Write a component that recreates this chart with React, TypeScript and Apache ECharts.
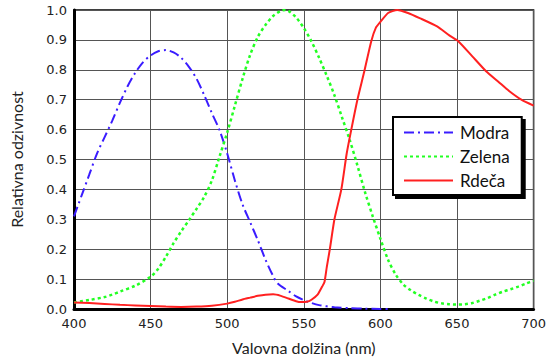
import React, { useEffect, useRef } from "react";
import * as echarts from "echarts";

const xTicks = [400, 450, 500, 550, 600, 650, 700];
const yTicks = [0, 0.1, 0.2, 0.3, 0.4, 0.5, 0.6, 0.7, 0.8, 0.9, 1.0];

const seriesNames = ["Modra", "Zelena", "Rdeča"];

const blueX = [400, 405, 410, 415, 420, 425, 430, 435, 440, 445, 450, 455, 460, 465, 470, 475, 480, 485, 490, 495, 500, 505, 510, 515, 520, 525, 530, 533, 540, 545, 550, 555, 560, 570, 580, 590, 600, 605];
const blueY = [0.31, 0.38, 0.45, 0.52, 0.575, 0.63, 0.69, 0.745, 0.79, 0.825, 0.848, 0.862, 0.866, 0.858, 0.84, 0.81, 0.77, 0.715, 0.655, 0.598, 0.52, 0.43, 0.35, 0.29, 0.23, 0.165, 0.11, 0.085, 0.06, 0.042, 0.03, 0.02, 0.013, 0.006, 0.003, 0.001, 0, 0];

const greenX = [400, 410, 420, 425, 430, 440, 450, 455, 460, 465, 470, 475, 480, 485, 490, 495, 500, 505, 510, 515, 520, 525, 530, 535, 538, 540, 545, 550, 555, 560, 565, 570, 575, 580, 585, 590, 595, 600, 605, 610, 615, 620, 625, 630, 635, 640, 645, 650, 655, 660, 665, 670, 675, 680, 685, 690, 695, 700];
const greenY = [0.022, 0.03, 0.04, 0.048, 0.058, 0.078, 0.108, 0.135, 0.175, 0.22, 0.26, 0.297, 0.335, 0.375, 0.43, 0.51, 0.59, 0.68, 0.77, 0.85, 0.91, 0.95, 0.98, 0.997, 1.0, 0.997, 0.975, 0.94, 0.895, 0.84, 0.78, 0.715, 0.64, 0.565, 0.48, 0.39, 0.31, 0.235, 0.165, 0.115, 0.082, 0.062, 0.047, 0.035, 0.025, 0.019, 0.016, 0.015, 0.016, 0.02, 0.028, 0.037, 0.048, 0.058, 0.066, 0.075, 0.085, 0.095];

const redX = [400, 410, 420, 430, 440, 450, 460, 470, 480, 490, 500, 505, 510, 515, 520, 525, 530, 535, 540, 545, 548, 552, 555, 559, 562, 563.5, 565, 567, 570, 574.5, 578, 581, 585, 589.5, 594, 597, 600, 605, 611, 618, 626, 637, 645, 651, 660, 669, 677, 684, 692, 700];
const redY = [0.022, 0.02, 0.017, 0.014, 0.012, 0.01, 0.008, 0.007, 0.008, 0.011, 0.018, 0.024, 0.032, 0.038, 0.044, 0.048, 0.049, 0.044, 0.035, 0.026, 0.023, 0.024, 0.031, 0.048, 0.075, 0.09, 0.14, 0.2, 0.3, 0.4, 0.52, 0.6, 0.7, 0.795, 0.895, 0.94, 0.96, 0.99, 1.0, 0.99, 0.972, 0.945, 0.915, 0.895, 0.845, 0.795, 0.76, 0.729, 0.7, 0.68];

const zip = (xs: number[], ys: number[]) => xs.map((x, i) => [x, ys[i]]);

export default function App() {
  const ref = useRef<HTMLDivElement>(null);
  useEffect(() => {
    if (!ref.current) return;
    const chart = echarts.init(ref.current, undefined, { renderer: "svg" });
    const labelFont = { fontFamily: "DejaVu Sans", fontSize: 13, color: "#222" };
    chart.setOption({
      animation: false,
      backgroundColor: "#fff",
      grid: {
        left: 73,
        right: 11,
        top: 10,
        bottom: 49,
        show: true,
        borderColor: "#000",
        borderWidth: 1.5,
        containLabel: false,
      },
      xAxis: {
        type: "value",
        min: xTicks[0],
        max: xTicks[xTicks.length - 1],
        interval: 50,
        name: "Valovna dolžina (nm)",
        nameLocation: "middle",
        nameGap: 30,
        nameTextStyle: { fontFamily: "Lato", fontSize: 16, color: "#222" },
        axisLine: { show: true, onZero: false, lineStyle: { color: "#000", width: 3 } },
        axisTick: { show: false },
        axisLabel: { ...labelFont, margin: 8 },
        splitLine: { show: true, lineStyle: { color: "#555", width: 1 } },
      },
      yAxis: {
        type: "value",
        min: yTicks[0],
        max: yTicks[yTicks.length - 1],
        interval: 0.1,
        name: "Relativna odzivnost",
        nameLocation: "middle",
        nameGap: 50,
        nameTextStyle: { fontFamily: "Lato", fontSize: 16, color: "#222" },
        axisLine: { show: true, lineStyle: { color: "#000", width: 3 } },
        axisTick: { show: false },
        axisLabel: { ...labelFont, margin: 7, formatter: (v: number) => v.toFixed(1) },
        splitLine: { show: true, lineStyle: { color: "#555", width: 1 } },
      },
      legend: {
        left: 393,
        top: 117,
        orient: "vertical",
        itemWidth: 49,
        itemHeight: 14,
        itemGap: 7,
        padding: [7, 12, 6, 10],
        backgroundColor: "#fff",
        borderColor: "#000",
        borderWidth: 2,
        shadowColor: "#000",
        shadowOffsetX: 3,
        shadowOffsetY: 3,
        shadowBlur: 0,
        itemStyle: { opacity: 0 },
        textStyle: { fontFamily: "Lato", fontSize: 17, color: "#111", padding: [0, 0, 0, 2] },
        data: seriesNames,
      },
      series: [
        {
          name: seriesNames[0],
          type: "line",
          data: zip(blueX, blueY),
          smooth: 0.3,
          symbol: "none",
          lineStyle: { color: "#3a1cff", width: 2, type: [10, 4, 2, 4] },
          itemStyle: { color: "#3a1cff" },
        },
        {
          name: seriesNames[1],
          type: "line",
          data: zip(greenX, greenY),
          smooth: 0.3,
          symbol: "none",
          lineStyle: { color: "#22ff22", width: 2.5, type: [3, 3] },
          itemStyle: { color: "#22ff22" },
        },
        {
          name: seriesNames[2],
          type: "line",
          data: zip(redX, redY),
          smooth: 0.2,
          symbol: "none",
          lineStyle: { color: "#ff2020", width: 2 },
          itemStyle: { color: "#ff2020" },
        },
      ],
    });
    return () => chart.dispose();
  }, []);
  return (
    <div
      ref={ref}
      style={{ position: "absolute", left: 0, top: 0, width: 549, height: 360 }}
    />
  );
}
